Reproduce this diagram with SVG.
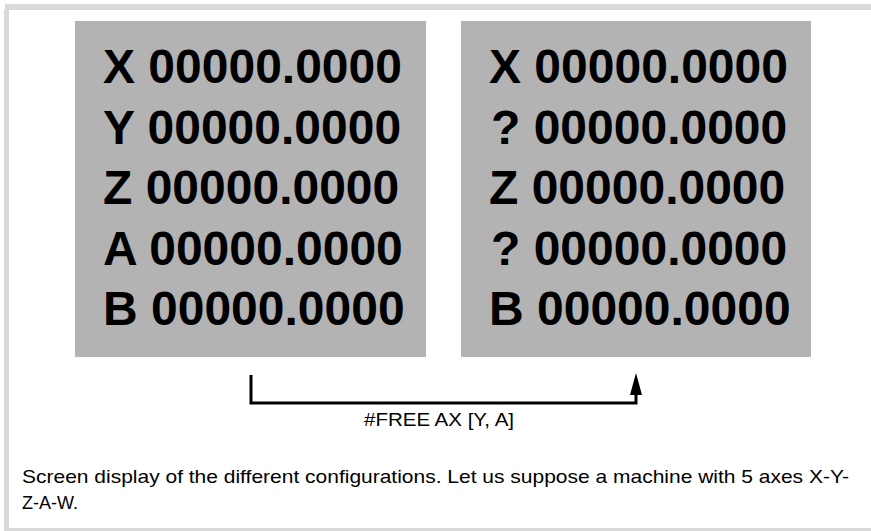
<svg xmlns="http://www.w3.org/2000/svg" width="871" height="531" viewBox="0 0 871 531">
<style>
.frame{fill:#d9d9d9}
.panel{fill:#b3b3b3}
.big{font-family:"Liberation Sans",Arial,sans-serif;font-weight:bold;font-size:48px;fill:#000}
.lbl{font-family:"Liberation Sans",Arial,sans-serif;font-size:19px;fill:#000}
.cap{font-family:"Liberation Sans",Arial,sans-serif;font-size:19px;fill:#000}
.conn{fill:none;stroke:#000;stroke-width:3}
</style>
<rect x="0" y="0" width="871" height="531" fill="#ffffff"/>
<g id="frame">
<rect class="frame" x="5" y="4" width="866" height="6"/>
<rect class="frame" x="4" y="10" width="5" height="521"/>
<rect class="frame" x="4" y="528" width="867" height="3"/>
</g>
<g id="panel-before">
<rect class="panel" x="75" y="21" width="351" height="336"/>
<text class="big" x="103" y="83">X 00000.0000</text>
<text class="big" x="103" y="143.5">Y 00000.0000</text>
<text class="big" x="103" y="204">Z 00000.0000</text>
<text class="big" x="103" y="264.5">A 00000.0000</text>
<text class="big" x="103" y="325">B 00000.0000</text>
</g>
<g id="panel-after">
<rect class="panel" x="461" y="21" width="350" height="336"/>
<text class="big" x="489" y="83">X 00000.0000</text>
<text class="big" x="491" y="143.5">? 00000.0000</text>
<text class="big" x="489" y="204">Z 00000.0000</text>
<text class="big" x="491" y="264.5">? 00000.0000</text>
<text class="big" x="489" y="325">B 00000.0000</text>
</g>
<g id="connectors">
<polyline class="conn" points="251,375 251,403 636,403 636,392"/>
<polygon points="636,373 630,395 642,395" fill="#000"/>
</g>
<g id="connector-label">
<text class="lbl" x="439" y="426" text-anchor="middle" textLength="150" lengthAdjust="spacingAndGlyphs">#FREE AX [Y, A]</text>
</g>
<g id="caption">
<text class="cap" x="22" y="483" textLength="827" lengthAdjust="spacingAndGlyphs">Screen display of the different configurations. Let us suppose a machine with 5 axes X-Y-</text>
<text class="cap" x="22" y="509" textLength="56" lengthAdjust="spacingAndGlyphs">Z-A-W.</text>
</g>
</svg>
